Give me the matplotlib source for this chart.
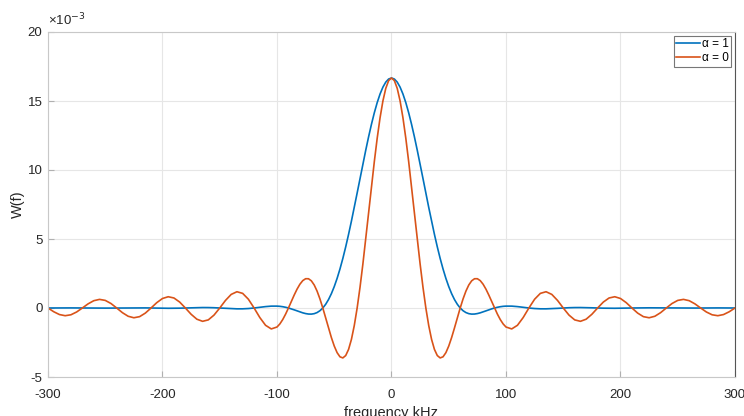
import matplotlib.pyplot as plt

plt.rcParams['font.family'] = ['Liberation Sans', 'DejaVu Sans']
plt.rcParams['axes.unicode_minus'] = False

# Frequency axis in kHz (finer spacing near the main lobe)
freq_pos = [0, 2.5, 5, 7.5, 10, 12.5, 15, 17.5, 20, 22.5, 25, 27.5, 30, 32.5, 35, 37.5,
            40, 42.5, 45, 47.5, 50, 52.5, 55, 57.5, 60, 62.5, 65, 67.5, 70, 72.5, 75,
            77.5, 80, 82.5, 85, 87.5, 90, 92.5, 95, 97.5, 100,
            105, 110, 115, 120, 125, 130, 135, 140, 145, 150, 155, 160, 165, 170, 175,
            180, 185, 190, 195, 200, 205, 210, 215, 220, 225, 230, 235, 240, 245, 250,
            255, 260, 265, 270, 275, 280, 285, 290, 295, 300]

# W(f) values (x 1e-3) for f >= 0, both curves are even in f
w_a1_pos = [16.667, 16.592, 16.370, 16.005, 15.506, 14.883, 14.147, 13.316, 12.406, 11.433,
            10.417, 9.379, 8.333, 7.298, 6.297, 5.335, 4.431, 3.592, 2.830, 2.147, 1.551,
            1.040, 0.613, 0.268, 0.0, -0.197, -0.331, -0.410, -0.443, -0.438, -0.404,
            -0.350, -0.282, -0.208, -0.133, -0.063, 0.0, 0.052, 0.093, 0.121, 0.136,
            0.135, 0.101, 0.051, 0.0, -0.039, -0.060, -0.061, -0.047, -0.025, 0.0,
            0.020, 0.031, 0.033, 0.026, 0.014, 0.0, -0.012, -0.018, -0.020, -0.016,
            -0.008, 0.0, 0.007, 0.012, 0.013, 0.010, 0.006, 0.0, -0.005, -0.008,
            -0.009, -0.007, -0.004, 0.0, 0.003, 0.006, 0.006, 0.005, 0.003, 0.0]

w_a0_pos = [16.667, 16.477, 15.915, 15.005, 13.783, 12.299, 10.610, 8.785, 6.892, 5.002,
            3.183, 1.498, 0.0, -1.267, -2.274, -3.001, -3.446, -3.617, -3.537, -3.236,
            -2.757, -2.144, -1.447, -0.716, 0.0, 0.659, 1.224, 1.667, 1.969, 2.120, 2.122,
            1.984, 1.723, 1.364, 0.936, 0.471, 0.0, -0.445, -0.838, -1.154, -1.378,
            -1.516, -1.253, -0.692, 0.0, 0.637, 1.060, 1.179, 0.985, 0.549, 0.0,
            -0.513, -0.861, -0.965, -0.811, -0.455, 0.0, 0.430, 0.725, 0.816, 0.689,
            0.388, 0.0, -0.370, -0.627, -0.707, -0.599, -0.339, 0.0, 0.325, 0.551,
            0.624, 0.530, 0.300, 0.0, -0.289, -0.492, -0.558, -0.475, -0.270, 0.0]

freq = [-f for f in freq_pos[:0:-1]] + freq_pos
w_a1 = w_a1_pos[:0:-1] + w_a1_pos
w_a0 = w_a0_pos[:0:-1] + w_a0_pos

x_ticks = [-300, -200, -100, 0, 100, 200, 300]
y_ticks = [-5, 0, 5, 10, 15, 20]

fig = plt.figure(figsize=(7.44, 4.16), dpi=100)
ax = fig.add_axes([48 / 744, 1 - 377 / 416, (735 - 48) / 744, (377 - 32) / 416])

ax.plot(freq, w_a1, color='#0072BD', lw=1.2, label='α = 1')
ax.plot(freq, w_a0, color='#D95319', lw=1.2, label='α = 0')

ax.set_xlim(-300, 300)
ax.set_ylim(-5, 20)
ax.set_xticks(x_ticks)
ax.set_yticks(y_ticks)
ax.grid(True, color='#e6e6e6', lw=0.8)
ax.set_axisbelow(True)
ax.tick_params(direction='in', length=4, labelsize=9.5, colors='#b0b0b0',
               labelcolor='#262626')
ax.tick_params(axis='x', pad=9)
ax.tick_params(axis='y', pad=4)

for side in ['left', 'bottom', 'top']:
    ax.spines[side].set_color('#c8c8c8')
ax.spines['right'].set_color('#555555')

ax.set_xlabel('frequency kHz', fontsize=10.5, color='#262626', labelpad=3)
ax.set_ylabel('W(f)', fontsize=10.5, color='#262626', labelpad=2)
ax.text(0.0, 1.01, '×10$^{-3}$', transform=ax.transAxes, fontsize=9.5,
        color='#262626', ha='left', va='bottom')

leg = ax.legend(loc='upper right', fontsize=8.5, frameon=True, fancybox=False,
                handlelength=2.0, handletextpad=0.2, borderpad=0.2, labelspacing=0.2,
                borderaxespad=0.3)
leg.get_frame().set_edgecolor('#555555')
leg.get_frame().set_linewidth(0.8)

fig.savefig('out.png', dpi=100)
